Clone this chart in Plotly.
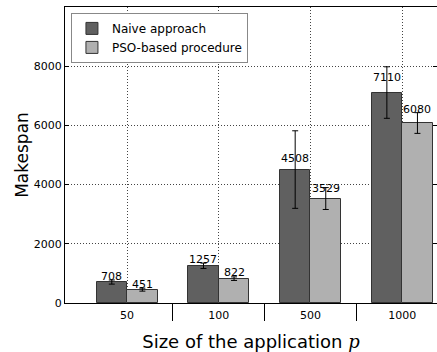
import plotly.graph_objects as go

categories = ["50", "100", "500", "1000"]
naive = [708, 1257, 4508, 7110]
naive_err = [70, 90, 1310, 870]
pso = [451, 822, 3529, 6080]
pso_err = [50, 60, 370, 350]
series_names = ["Naive approach", "PSO-based procedure"]
y_ticks = [0, 2000, 4000, 6000, 8000]

W = 1 / 3
idx = list(range(len(categories)))
x_naive = [i - W / 2 for i in idx]
x_pso = [i + W / 2 for i in idx]

FONT = "DejaVu Sans"
fig = go.Figure()
for name, xs, ys, es, col in [
    (series_names[0], x_naive, naive, naive_err, "#606060"),
    (series_names[1], x_pso, pso, pso_err, "#b0b0b0"),
]:
    fig.add_trace(go.Bar(
        x=xs, y=ys, width=W, name=name,
        marker=dict(color=col, line=dict(color="#333333", width=1)),
        error_y=dict(type="data", array=es, color="black", thickness=1, width=3),
    ))
    for x, y in zip(xs, ys):
        fig.add_annotation(x=x, y=y * 1.05, text=str(y), showarrow=False,
                           yanchor="bottom", xanchor="center", yshift=-4,
                           font=dict(family=FONT, size=11, color="black"))

fig.update_layout(
    width=437, height=352,
    margin=dict(l=65, r=0, t=7, b=49),
    plot_bgcolor="white", paper_bgcolor="white",
    barmode="overlay", bargap=0,
    font=dict(family=FONT, size=11, color="black"),
    showlegend=True,
    legend=dict(x=0.016, y=0.98, xanchor="left", yanchor="top",
                bordercolor="#888888", borderwidth=1, bgcolor="white",
                font=dict(family=FONT, size=12), tracegroupgap=0,
                itemwidth=30),
    xaxis=dict(
        range=[-0.677, 3.38],
        tickvals=idx, ticktext=categories,
        ticks="outside", ticklen=2, tickcolor="rgba(0,0,0,0)",
        showgrid=True, gridcolor="#444444", griddash="1px,2px", gridwidth=1,
        showline=True, linecolor="black", linewidth=1, mirror=True,
        zeroline=False,
        minor=dict(tickvals=[0.5, 1.5, 2.5], ticks="outside", ticklen=17,
                   tickcolor="black", tickwidth=1, showgrid=False),
        tickfont=dict(family=FONT, size=11),
        title=dict(text="Size of the application <span style=\"font-family:'DejaVu Serif'\"><i>p</i></span>",
                   font=dict(family=FONT, size=18), standoff=18),
    ),
    yaxis=dict(
        range=[0, 10000],
        tickvals=y_ticks, ticks="inside", ticklen=4, tickcolor="black",
        showgrid=True, gridcolor="#444444", griddash="1px,2px", gridwidth=1,
        showline=True, linecolor="black", linewidth=1, mirror="ticks",
        zeroline=False,
        tickfont=dict(family=FONT, size=11),
        title=dict(text="Makespan", font=dict(family=FONT, size=17), standoff=0),
    ),
)

fig.write_html("out.html")
